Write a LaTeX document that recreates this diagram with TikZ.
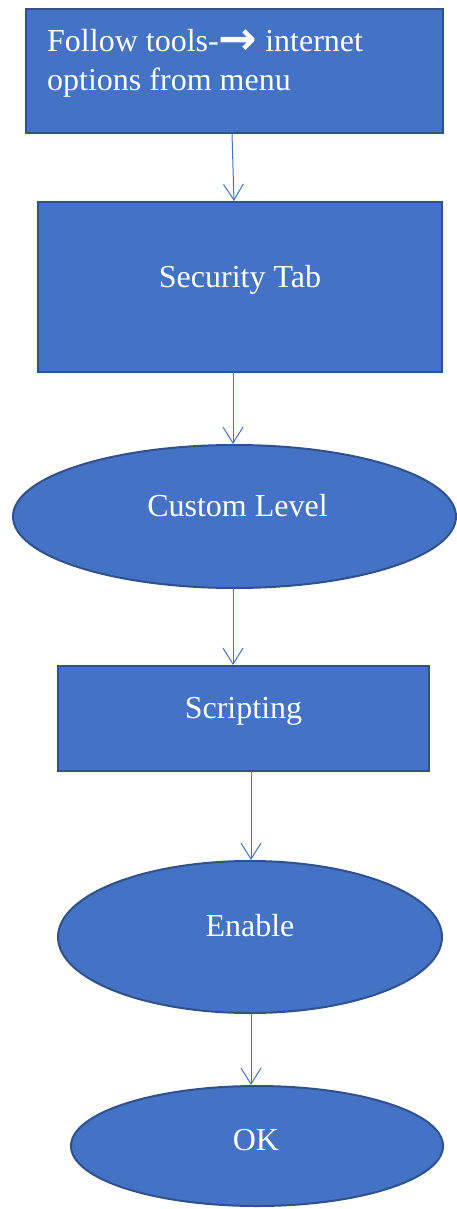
\documentclass[tikz,border=0pt]{standalone}
\usepackage{fontspec}
\setmainfont{Liberation Serif}
\newfontfamily\arrowfont{DejaVu Sans}
\usetikzlibrary{arrows.meta,shapes.geometric}
\definecolor{fillblue}{HTML}{4472C4}
\definecolor{edgeblue}{HTML}{2F528F}
\tikzset{
  shapebox/.style={draw=edgeblue, fill=fillblue, line width=2pt, inner sep=0pt, outer sep=0pt},
  rectbox/.style={shapebox, rectangle},
  ellbox/.style={shapebox, ellipse},
  lbl/.style={text=white, font=\fontsize{32}{39}\selectfont, inner sep=0pt},
  conn/.style={draw=fillblue, line width=1pt, -{Straight Barb[length=16pt,width=20pt,line width=1pt]}, shorten >=1pt}
}
\begin{document}
\begin{tikzpicture}[x=1pt,y=-1pt]
\useasboundingbox (0,0) rectangle (457,1209);
% shapes (outer sizes minus line width)
\node[rectbox, minimum width=417pt, minimum height=124pt] (b1) at (234.5,71) {};
\node[rectbox, minimum width=404pt, minimum height=170pt] (b2) at (240,287) {};
\node[ellbox, minimum width=443pt, minimum height=143pt] (e1) at (234.5,516.5) {};
\node[rectbox, minimum width=371pt, minimum height=105pt] (b3) at (243.5,718.5) {};
\node[ellbox, minimum width=384pt, minimum height=152pt] (e2) at (250,937) {};
\node[ellbox, minimum width=372pt, minimum height=120pt] (e3) at (257,1146) {};
% texts
\node[lbl, anchor=base west] (t1a) at (47,52) {Follow tools-\raisebox{-3pt}{\arrowfont\bfseries\fontsize{46}{46}\selectfont →} internet};
\node[lbl, anchor=base west] (t1b) at (47,91) {options from menu};
\node[lbl, anchor=base] (t2) at (240,287) {Security Tab};
\node[lbl, anchor=base] (t3) at (237.5,516.5) {Custom Level};
\node[lbl, anchor=base] (t4) at (243.5,718) {Scripting};
\node[lbl, anchor=base] (t5) at (250,936) {Enable};
\node[lbl, anchor=base] (t6) at (256,1150) {OK};
% connectors
\draw[conn] ([xshift=-2.5pt]b1.south) -- ([xshift=-6pt]b2.north);
\draw[conn] ([xshift=-7pt]b2.south) -- ([xshift=-1.5pt]e1.north);
\draw[conn] ([xshift=-1.5pt]e1.south) -- ([xshift=-10.5pt]b3.north);
\draw[conn] ([xshift=7.5pt]b3.south) -- ([xshift=1pt]e2.north);
\draw[conn] ([xshift=1pt]e2.south) -- ([xshift=-6pt]e3.north);
\end{tikzpicture}
\end{document}
